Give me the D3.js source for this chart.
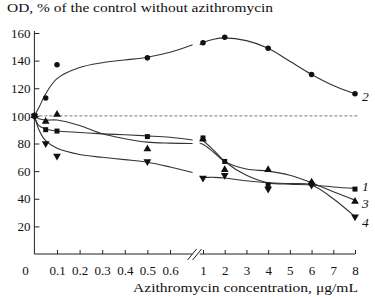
<!DOCTYPE html>
<html>
<head>
<meta charset="utf-8">
<script src="https://cdn.jsdelivr.net/npm/d3@7"></script>
<style>
  body { margin: 0; background: #fff; }
</style>
</head>
<body>
<div id="chart"></div>
<script>
// measured concentrations (ug/mL)
var conc = [0, 0.05, 0.1, 0.5, 1, 2, 4, 6, 8];
// OD, % of control, one array per curve
var series1 = [100, 90, 89, 85, 84, 67, 50, 51, 47];      // squares
var series2 = [100, 113, 137, 142, 153, 157, 149, 130, 116]; // circles
var series3 = [100, 96, 101, 76, 83, 61, 61, 52, 38];     // up triangles
var series4 = [100, 80, 71, 67, 55, 57, 47, 50, 27];      // down triangles

// fitted curves (left part and right part of the broken axis)
var fitLeftX = [0, 0.02, 0.05, 0.1, 0.2, 0.3, 0.4, 0.5, 0.6, 0.7];
var fit1L = [100, 93, 90.5, 89, 88, 87, 86.3, 85.5, 84.5, 82.5];
var fit2L = [100, 106, 116, 127, 135, 138.5, 140.5, 142.5, 146, 151.5];
var fit3L = [100, 98, 97, 97, 93, 87, 83.5, 81, 80.3, 80];
var fit4L = [100, 90, 82, 76.5, 72, 70, 68.3, 66.4, 63, 59];

var fitRightX = [0.85, 1, 1.5, 2, 3, 4, 5, 6, 7, 8];
var fit1R = [83, 82, 75, 67, 57, 51.5, 50.5, 50, 48.5, 47.5];
var fit2R = [151.5, 153, 155.5, 156.5, 154.5, 149, 139.5, 130, 122, 116];
var fit3R = [80, 79.5, 73.5, 67, 61.5, 60, 57, 51.5, 45, 39];
var fit4R = [56, 55.5, 55.5, 55, 53, 51.5, 51, 50, 40, 27];

var yTicks = [20, 40, 60, 80, 100, 120, 140, 160];
var xTicksLeft = [0.1, 0.2, 0.3, 0.4, 0.5, 0.6];
var xTicksRight = [1, 2, 3, 4, 5, 6, 7, 8];
var seriesLabels = ["1", "2", "3", "4"];

var width = 375, height = 297;
var serif = "'Liberation Serif', 'Times New Roman', 'DejaVu Serif', serif";

var svg = d3.select("#chart")
    .append("svg")
    .attr("width", width)
    .attr("height", height)
    .attr("font-family", serif);

var y = d3.scaleLinear().domain([0, 160]).range([254, 33]);
var xL = d3.scaleLinear().domain([0, 0.6]).range([34.4, 170]);
var xR = d3.scaleLinear().domain([1, 8]).range([203, 355]);

function xAny(v) { return v < 0.8 ? xL(v) : xR(v); }

var axisColor = "#222";

function styleAxis(g) {
    g.attr("font-family", serif).attr("font-size", 13);
    g.select(".domain").remove();
    g.selectAll("line").attr("stroke", axisColor);
    g.selectAll("text").attr("fill", "#111");
}

// y axis, ticks pointing inward
svg.append("g")
    .attr("transform", `translate(${xL(0)},0)`)
    .call(d3.axisLeft(y).tickValues(yTicks).tickSizeInner(-5).tickSizeOuter(0).tickPadding(4))
    .call(styleAxis);
svg.append("line")
    .attr("x1", xL(0)).attr("x2", xL(0))
    .attr("y1", y(160) - 2).attr("y2", y(0))
    .attr("stroke", axisColor);

// x axis, left part
svg.append("g")
    .attr("transform", `translate(0,${y(0)})`)
    .call(d3.axisBottom(xL).tickValues(xTicksLeft).tickFormat(d3.format(".1f"))
        .tickSizeInner(-4).tickSizeOuter(0).tickPadding(12))
    .call(styleAxis);

// x axis, right part
svg.append("g")
    .attr("transform", `translate(0,${y(0)})`)
    .call(d3.axisBottom(xR).tickValues(xTicksRight).tickFormat(d3.format("d"))
        .tickSizeInner(-4).tickSizeOuter(0).tickPadding(12))
    .call(styleAxis);

svg.append("line")
    .attr("x1", xL(0)).attr("x2", xL(0.7))
    .attr("y1", y(0)).attr("y2", y(0))
    .attr("stroke", axisColor);
svg.append("line")
    .attr("x1", xR(0.85)).attr("x2", xR(8))
    .attr("y1", y(0)).attr("y2", y(0))
    .attr("stroke", axisColor);

// break marks
[-4, 1].forEach(function(d) {
    svg.append("line")
        .attr("x1", xL(0.7) + d - 1).attr("y1", y(0) + 6)
        .attr("x2", xL(0.7) + d + 8).attr("y2", y(0) - 5)
        .attr("stroke", axisColor);
});

// "0" at the corner
svg.append("text")
    .attr("x", xL(0) - 9)
    .attr("y", 275)
    .attr("text-anchor", "middle")
    .attr("font-size", 13)
    .attr("fill", "#111")
    .text("0");

// control level
svg.append("line")
    .attr("x1", xL(0)).attr("x2", xR(8) + 3)
    .attr("y1", y(100)).attr("y2", y(100))
    .attr("stroke", "#777")
    .attr("stroke-dasharray", "3,2");

// fitted curves
var lineL = d3.line().x(function(d) { return xL(d[0]); }).y(function(d) { return y(d[1]); }).curve(d3.curveCatmullRom.alpha(0.5));
var lineR = d3.line().x(function(d) { return xR(d[0]); }).y(function(d) { return y(d[1]); }).curve(d3.curveCatmullRom.alpha(0.5));

[fit1L, fit2L, fit3L, fit4L].forEach(function(f) {
    svg.append("path")
        .datum(d3.zip(fitLeftX, f))
        .attr("d", lineL)
        .attr("fill", "none")
        .attr("stroke", "#333")
        .attr("stroke-width", 1.1);
});
[fit1R, fit2R, fit3R, fit4R].forEach(function(f) {
    svg.append("path")
        .datum(d3.zip(fitRightX, f))
        .attr("d", lineR)
        .attr("fill", "none")
        .attr("stroke", "#333")
        .attr("stroke-width", 1.1);
});

// markers
var markerFill = "#111";
function drawMarkers(vals, symType, size) {
    svg.append("g").selectAll("path")
        .data(d3.zip(conc, vals))
        .enter().append("path")
        .attr("transform", function(d) { return `translate(${xAny(d[0])},${y(d[1])})`; })
        .attr("d", d3.symbol().type(symType).size(size))
        .attr("fill", markerFill);
}
var triDown = {
    draw: function(context, size) {
        var s = Math.sqrt(size / (Math.sqrt(3) / 4));
        var h = s * Math.sqrt(3) / 2;
        context.moveTo(-s / 2, -h / 3);
        context.lineTo(s / 2, -h / 3);
        context.lineTo(0, 2 * h / 3);
        context.closePath();
    }
};
var triUp = {
    draw: function(context, size) {
        var s = Math.sqrt(size / (Math.sqrt(3) / 4));
        var h = s * Math.sqrt(3) / 2;
        context.moveTo(-s / 2, h / 3);
        context.lineTo(s / 2, h / 3);
        context.lineTo(0, -2 * h / 3);
        context.closePath();
    }
};
drawMarkers(series1, d3.symbolSquare, 25);
drawMarkers(series2, d3.symbolCircle, 24);
drawMarkers(series3, triUp, 26);
drawMarkers(series4, triDown, 26);

// curve numbers, next to the last point of each curve
var lastVals = [series1, series2, series3, series4].map(function(s) { return s[s.length - 1]; });
var labelDy = [2, 7, 6.5, 10];
svg.append("g").selectAll("text")
    .data(seriesLabels)
    .enter().append("text")
    .attr("x", xR(8) + 7)
    .attr("y", function(d, i) { return y(lastVals[i]) + labelDy[i]; })
    .attr("font-size", 13.5)
    .attr("font-style", "italic")
    .attr("fill", "#111")
    .text(function(d) { return d; });

// axis titles
svg.append("text")
    .attr("x", 7)
    .attr("y", 12)
    .attr("font-size", 13.5)
    .attr("fill", "#111")
    .attr("textLength", 266)
    .attr("lengthAdjust", "spacingAndGlyphs")
    .text("OD, % of the control without azithromycin");

svg.append("text")
    .attr("x", 133)
    .attr("y", 292)
    .attr("font-size", 13.5)
    .attr("fill", "#111")
    .attr("textLength", 225)
    .attr("lengthAdjust", "spacingAndGlyphs")
    .text("Azithromycin concentration, \u03bcg/mL");
</script>
</body>
</html>
